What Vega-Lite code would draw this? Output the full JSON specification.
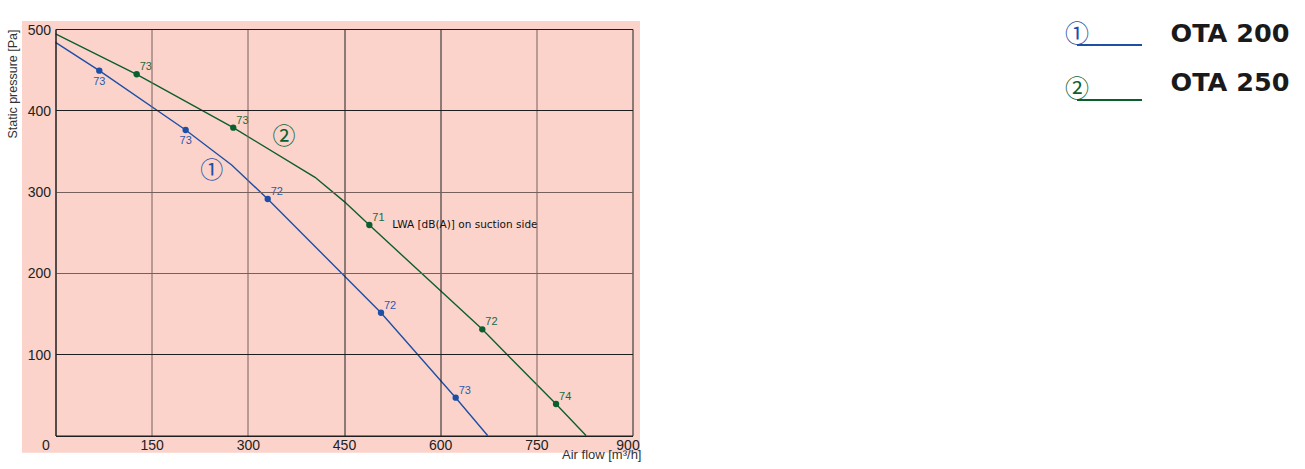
{
  "$schema": "https://vega.github.io/schema/vega-lite/v6.json",
  "autosize": "none",
  "width": 577,
  "height": 406.5,
  "padding": {"left": 55.5, "top": 29, "right": 672.5, "bottom": 33.5},
  "background": "white",
  "config": {
    "view": {"stroke": null},
    "axis": {
      "ticks": false,
      "tickSize": 0,
      "domain": true,
      "domainColor": "#1e1e1e",
      "domainWidth": 1,
      "grid": true,
      "gridWidth": 1,
      "labelFlush": false,
      "labelFont": "Liberation Sans",
      "labelFontSize": 14,
      "labelColor": "#222222",
      "titleFont": "Liberation Sans",
      "titleFontWeight": "normal",
      "titleColor": "#333333"
    }
  },
  "datasets": {
    "curve": [
      {"series": "OTA 200", "flow": 0, "pressure": 483.6},
      {"series": "OTA 200", "flow": 68.3, "pressure": 448.7},
      {"series": "OTA 200", "flow": 203, "pressure": 375.8},
      {"series": "OTA 200", "flow": 274.8, "pressure": 332.7},
      {"series": "OTA 200", "flow": 331, "pressure": 290.9},
      {"series": "OTA 200", "flow": 507.7, "pressure": 151},
      {"series": "OTA 200", "flow": 624.2, "pressure": 46.5},
      {"series": "OTA 200", "flow": 674, "pressure": 0},
      {"series": "OTA 250", "flow": 0, "pressure": 493.9},
      {"series": "OTA 250", "flow": 126.6, "pressure": 444.3},
      {"series": "OTA 250", "flow": 277.3, "pressure": 378.6},
      {"series": "OTA 250", "flow": 404.8, "pressure": 317.6},
      {"series": "OTA 250", "flow": 450, "pressure": 288},
      {"series": "OTA 250", "flow": 489.5, "pressure": 258.9},
      {"series": "OTA 250", "flow": 665.7, "pressure": 130.6},
      {"series": "OTA 250", "flow": 780.7, "pressure": 38.7},
      {"series": "OTA 250", "flow": 827.5, "pressure": 0}
    ],
    "points": [
      {"series": "OTA 200", "flow": 68.3, "pressure": 448.7, "lwa": 73},
      {"series": "OTA 200", "flow": 203, "pressure": 375.8, "lwa": 73},
      {"series": "OTA 200", "flow": 331, "pressure": 290.9, "lwa": 72},
      {"series": "OTA 200", "flow": 507.7, "pressure": 151, "lwa": 72},
      {"series": "OTA 200", "flow": 624.2, "pressure": 46.5, "lwa": 73},
      {"series": "OTA 250", "flow": 126.6, "pressure": 444.3, "lwa": 73},
      {"series": "OTA 250", "flow": 277.3, "pressure": 378.6, "lwa": 73},
      {"series": "OTA 250", "flow": 489.5, "pressure": 258.9, "lwa": 71},
      {"series": "OTA 250", "flow": 665.7, "pressure": 130.6, "lwa": 72},
      {"series": "OTA 250", "flow": 780.7, "pressure": 38.7, "lwa": 74}
    ],
    "tags": [
      {"num": "①", "flow": 243.6, "pressure": 325},
      {"num": "②", "flow": 356.4, "pressure": 367.5}
    ],
    "notes": [
      {"note": "LWA [dB(A)] on suction side", "flow": 525.3, "pressure": 259.5}
    ]
  },
  "layer": [
    {
      "data": {"values": [{}]},
      "mark": {"type": "rect", "color": "#fbd3cb"},
      "encoding": {
        "x": {"datum": -52.3, "type": "quantitative", "scale": {"domain": [0, 900], "nice": false, "zero": false}},
        "x2": {"datum": 911.7},
        "y": {"datum": 509.8, "type": "quantitative", "scale": {"domain": [0, 500], "nice": false, "zero": false}},
        "y2": {"datum": -21.2}
      }
    },
    {
      "data": {"name": "curve"},
      "mark": {"type": "line", "strokeWidth": 1.4},
      "encoding": {
        "x": {
          "field": "flow", "type": "quantitative",
          "scale": {"domain": [0, 900], "nice": false, "zero": false},
          "axis": {
            "zindex": 1,
            "title": "Air flow [m³/h]",
            "values": [0, 150, 300, 450, 600, 750, 900],
            "gridColor": {"condition": {"test": "datum.value == 150 || datum.value == 300 || datum.value == 750", "value": "#76605c"}, "value": "#1e1e1e"},
            "labelOffset": {"condition": [{"test": "datum.value == 0", "value": -10}, {"test": "datum.value == 900", "value": -5}], "value": 0},
            "labelPadding": 3,
            "titleFontSize": 13,
            "titleX": 585.5,
            "titleY": 23,
            "titleAlign": "right",
            "titleBaseline": "alphabetic"
          }
        },
        "y": {
          "field": "pressure", "type": "quantitative",
          "scale": {"domain": [0, 500], "nice": false, "zero": false},
          "axis": {
            "zindex": 1,
            "title": "Static pressure [Pa]",
            "values": [0, 100, 200, 300, 400, 500],
            "labelExpr": "datum.value == 0 ? '' : datum.label",
            "gridColor": {"condition": {"test": "datum.value == 200 || datum.value == 300", "value": "#76605c"}, "value": "#1e1e1e"},
            "labelPadding": 5,
            "labelOffset": 1,
            "titleFontSize": 12.5,
            "titleX": -43,
            "titleY": 0,
            "titleAngle": 270,
            "titleAlign": "right",
            "titleBaseline": "middle"
          }
        },
        "color": {
          "field": "series", "type": "nominal",
          "scale": {"domain": ["OTA 200", "OTA 250"], "range": ["#1d4fa5", "#0b5f2e"]},
          "legend": {
            "orient": "none", "legendX": 1089.5, "legendY": -19.25,
            "title": null, "padding": 0,
            "symbolOpacity": 0, "symbolSize": 0, "labelOffset": 0,
            "clipHeight": 48.5, "rowPadding": 0,
            "labelFont": "DejaVu Sans", "labelFontWeight": "bold", "labelFontSize": 25.5,
            "labelColor": "#1a1a1a", "labelLimit": 0
          }
        }
      }
    },
    {
      "data": {"name": "points"},
      "mark": {"type": "point", "filled": true, "opacity": 1, "size": 40},
      "encoding": {
        "x": {"field": "flow", "type": "quantitative", "scale": {"domain": [0, 900], "nice": false, "zero": false}},
        "y": {"field": "pressure", "type": "quantitative", "scale": {"domain": [0, 500], "nice": false, "zero": false}},
        "color": {"field": "series", "type": "nominal", "scale": {"domain": ["OTA 200", "OTA 250"], "range": ["#1d4fa5", "#0b5f2e"]}, "legend": null}
      }
    },
    {
      "data": {"name": "points"},
      "transform": [{"filter": "datum.series === 'OTA 200' && datum.flow < 250"}],
      "mark": {"type": "text", "font": "Liberation Sans", "fontSize": 11, "align": "center", "baseline": "middle", "dy": 11},
      "encoding": {
        "x": {"field": "flow", "type": "quantitative", "scale": {"domain": [0, 900], "nice": false, "zero": false}},
        "y": {"field": "pressure", "type": "quantitative", "scale": {"domain": [0, 500], "nice": false, "zero": false}},
        "text": {"field": "lwa"},
        "color": {"field": "series", "type": "nominal", "scale": {"domain": ["OTA 200", "OTA 250"], "range": ["#2a5aae", "#1a6a3a"]}, "legend": null}
      }
    },
    {
      "data": {"name": "points"},
      "transform": [{"filter": "!(datum.series === 'OTA 200' && datum.flow < 250)"}],
      "mark": {"type": "text", "font": "Liberation Sans", "fontSize": 11, "align": "left", "baseline": "middle", "dx": 3, "dy": -7},
      "encoding": {
        "x": {"field": "flow", "type": "quantitative", "scale": {"domain": [0, 900], "nice": false, "zero": false}},
        "y": {"field": "pressure", "type": "quantitative", "scale": {"domain": [0, 500], "nice": false, "zero": false}},
        "text": {"field": "lwa"},
        "color": {"field": "series", "type": "nominal", "scale": {"domain": ["OTA 200", "OTA 250"], "range": ["#2a5aae", "#1a6a3a"]}, "legend": null}
      }
    },
    {
      "data": {"name": "tags"},
      "mark": {"type": "text", "font": "Noto Sans CJK JP", "fontSize": 23, "align": "center", "baseline": "middle"},
      "encoding": {
        "x": {"field": "flow", "type": "quantitative", "scale": {"domain": [0, 900], "nice": false, "zero": false}},
        "y": {"field": "pressure", "type": "quantitative", "scale": {"domain": [0, 500], "nice": false, "zero": false}},
        "text": {"field": "num"},
        "color": {
          "field": "num", "type": "nominal",
          "scale": {"domain": ["①", "②"], "range": ["#1d4fa5", "#0b5f2e"]},
          "legend": {
            "orient": "none", "legendX": 1009.5, "legendY": -6,
            "title": null, "padding": 0,
            "symbolType": "M0,0.9H6.5V1.1H0Z", "symbolSize": 400,
            "symbolStrokeWidth": 0, "symbolOpacity": 1,
            "rowPadding": 31,
            "labelOffset": -12, "labelAlign": "center",
            "labelFont": "Noto Sans CJK JP", "labelFontSize": 24, "labelLimit": 0,
            "encode": {
              "labels": {"update": {"fill": {"signal": "datum.value === '①' ? '#1d4fa5' : '#0b5f2e'"}}},
              "symbols": {"update": {"fill": {"signal": "datum.value === '①' ? '#1d4fa5' : '#0b5f2e'"}, "opacity": {"value": 1}}}
            }
          }
        }
      }
    },
    {
      "data": {"name": "notes"},
      "mark": {"type": "text", "font": "DejaVu Sans", "fontSize": 10.5, "align": "left", "baseline": "middle", "color": "#111111"},
      "encoding": {
        "x": {"field": "flow", "type": "quantitative", "scale": {"domain": [0, 900], "nice": false, "zero": false}},
        "y": {"field": "pressure", "type": "quantitative", "scale": {"domain": [0, 500], "nice": false, "zero": false}},
        "text": {"field": "note"}
      }
    }
  ],
  "resolve": {"scale": {"color": "independent"}, "legend": {"color": "independent"}}
}
